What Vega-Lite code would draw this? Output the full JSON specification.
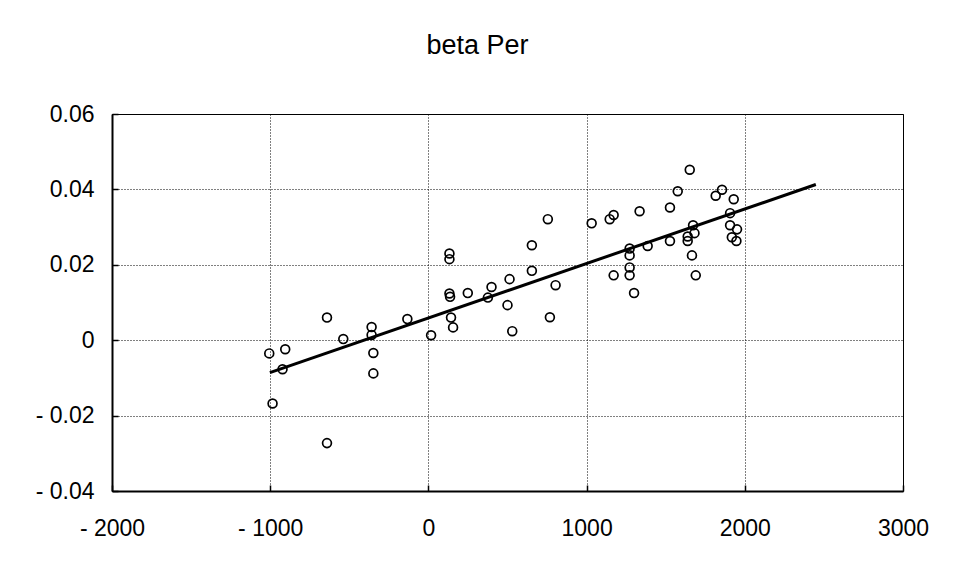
{
  "$schema": "https://vega.github.io/schema/vega-lite/v6.json",
  "width": 791,
  "height": 377,
  "autosize": "none",
  "padding": {"left": 112, "top": 114, "right": 51, "bottom": 77},
  "background": "white",
  "title": {
    "text": "beta Per",
    "fontSize": 27,
    "font": "Liberation Sans",
    "fontWeight": "normal",
    "color": "black",
    "anchor": "middle",
    "dx": -30,
    "offset": 43
  },
  "datasets": {
    "points": [
      {"x": -1006, "y": -0.0035}, {"x": -905, "y": -0.0024}, {"x": -922, "y": -0.0077},
      {"x": -985, "y": -0.0168}, {"x": -641, "y": 0.0060}, {"x": -641, "y": -0.0273},
      {"x": -538, "y": 0.0003}, {"x": -359, "y": 0.0035}, {"x": -359, "y": 0.0014},
      {"x": -348, "y": -0.0034}, {"x": -348, "y": -0.0088}, {"x": -133, "y": 0.0056},
      {"x": 17, "y": 0.0013}, {"x": 133, "y": 0.0230}, {"x": 133, "y": 0.0215},
      {"x": 133, "y": 0.0124}, {"x": 137, "y": 0.0115}, {"x": 143, "y": 0.0060},
      {"x": 156, "y": 0.0034}, {"x": 249, "y": 0.0125}, {"x": 376, "y": 0.0113},
      {"x": 399, "y": 0.0141}, {"x": 500, "y": 0.0093}, {"x": 513, "y": 0.0162},
      {"x": 530, "y": 0.0024}, {"x": 654, "y": 0.0184}, {"x": 654, "y": 0.0252},
      {"x": 755, "y": 0.0321}, {"x": 768, "y": 0.0061}, {"x": 804, "y": 0.0146},
      {"x": 1032, "y": 0.0310}, {"x": 1146, "y": 0.0321}, {"x": 1171, "y": 0.0332},
      {"x": 1171, "y": 0.0172}, {"x": 1272, "y": 0.0243}, {"x": 1272, "y": 0.0225},
      {"x": 1272, "y": 0.0193}, {"x": 1272, "y": 0.0172}, {"x": 1300, "y": 0.0125},
      {"x": 1335, "y": 0.0342}, {"x": 1386, "y": 0.0250}, {"x": 1527, "y": 0.0352},
      {"x": 1527, "y": 0.0263}, {"x": 1576, "y": 0.0395}, {"x": 1639, "y": 0.0275},
      {"x": 1639, "y": 0.0263}, {"x": 1652, "y": 0.0452}, {"x": 1673, "y": 0.0305},
      {"x": 1682, "y": 0.0284}, {"x": 1666, "y": 0.0225}, {"x": 1690, "y": 0.0172},
      {"x": 1816, "y": 0.0383}, {"x": 1856, "y": 0.0399}, {"x": 1930, "y": 0.0374},
      {"x": 1907, "y": 0.0337}, {"x": 1907, "y": 0.0305}, {"x": 1951, "y": 0.0294},
      {"x": 1918, "y": 0.0273}, {"x": 1947, "y": 0.0263}
    ],
    "fit": [
      {"x": -1002, "y": -0.0086},
      {"x": 2449, "y": 0.0413}
    ]
  },
  "layer": [
    {
      "data": {"name": "points"},
      "mark": {"type": "point", "shape": "circle", "filled": false, "stroke": "black", "strokeWidth": 1.7, "size": 78, "opacity": 1},
      "encoding": {
        "x": {
          "field": "x", "type": "quantitative",
          "scale": {"domain": [-2000, 3000], "nice": false, "zero": false},
          "axis": {
            "title": null,
            "values": [-2000, -1000, 0, 1000, 2000, 3000],
            "labelExpr": "datum.value < 0 ? '- ' + format(-datum.value, 'd') : format(datum.value, 'd')",
            "grid": true, "gridColor": "black", "gridDash": [1, 2], "gridWidth": 1, "gridOpacity": 1,
            "domainColor": "black", "domainWidth": 2,
            "tickColor": "black", "tickSize": -6, "tickWidth": 1.5,
            "labelFont": "Liberation Sans", "labelFontSize": 23, "labelColor": "black",
            "labelPadding": 32, "labelFlush": false, "labelOverlap": false
          }
        },
        "y": {
          "field": "y", "type": "quantitative",
          "scale": {"domain": [-0.04, 0.06], "nice": false, "zero": false},
          "axis": {
            "title": null,
            "values": [-0.04, -0.02, 0, 0.02, 0.04, 0.06],
            "labelExpr": "datum.value == 0 ? '0' : (datum.value < 0 ? '- ' + format(-datum.value, '.2f') : format(datum.value, '.2f'))",
            "grid": true, "gridColor": "black", "gridDash": [1, 2], "gridWidth": 1, "gridOpacity": 1,
            "domainColor": "black", "domainWidth": 2,
            "tickColor": "black", "tickSize": -6, "tickWidth": 1.5,
            "labelFont": "Liberation Sans", "labelFontSize": 23, "labelColor": "black",
            "labelPadding": 24, "labelFlush": false, "labelOverlap": false
          }
        }
      }
    },
    {
      "data": {"name": "fit"},
      "mark": {"type": "line", "color": "black", "strokeWidth": 3},
      "encoding": {
        "x": {"field": "x", "type": "quantitative"},
        "y": {"field": "y", "type": "quantitative"}
      }
    }
  ],
  "config": {
    "view": {"stroke": "black", "strokeWidth": 1}
  }
}
